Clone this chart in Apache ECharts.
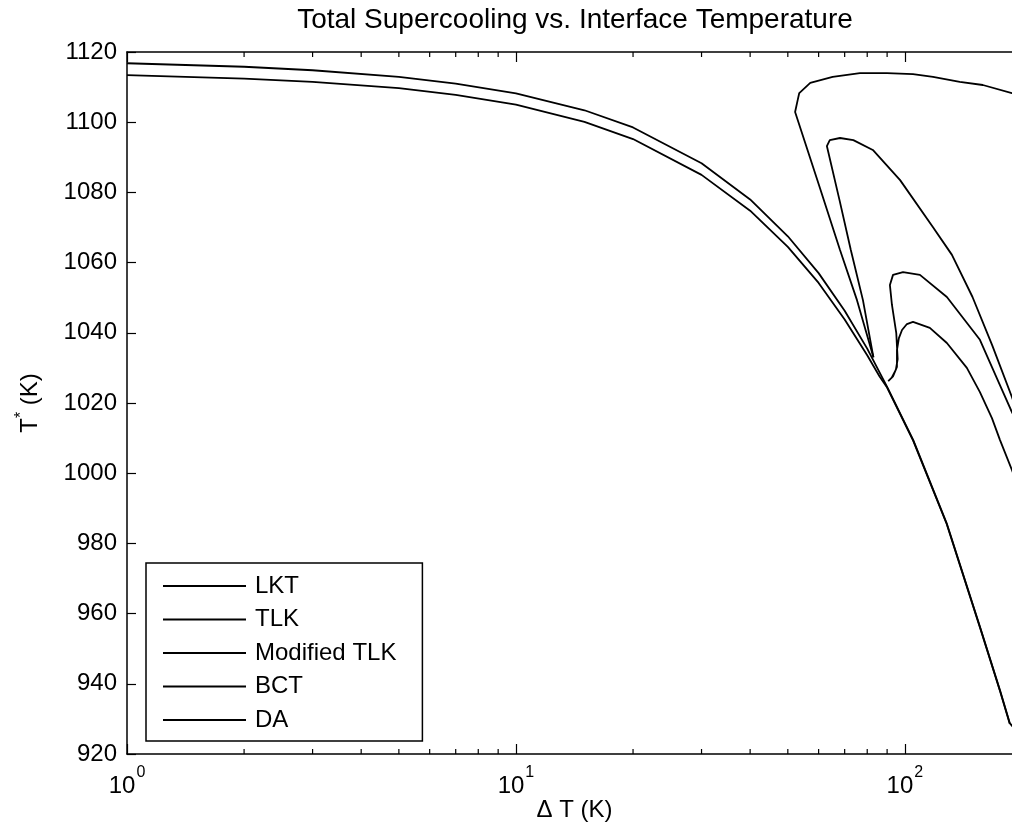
<!DOCTYPE html>
<html>
<head>
<meta charset="utf-8">
<script src="https://cdn.jsdelivr.net/npm/echarts@6/dist/echarts.min.js"></script>
<style>html,body{margin:0;padding:0;background:#fff}#c{width:1012px;height:836px}</style>
</head>
<body>
<div id="c"></div>
<script>
// ---- data ----
const titleText = 'Total Supercooling vs. Interface Temperature';
const seriesNames = ['LKT', 'TLK', 'Modified TLK', 'BCT', 'DA'];
const xMin = 1, xMax = 200;
const yMin = 920, yMax = 1120, yStep = 20;
const minorTickValues = [2, 3, 4, 5, 6, 7, 8, 9, 20, 30, 40, 50, 60, 70, 80, 90];

const lktDT = [1, 2, 3, 5, 7, 10, 15, 20, 30, 40, 50, 60, 70, 80, 90, 105, 128, 156, 175.5, 186, 190];
const lktT  = [1116.8, 1115.8, 1114.8, 1112.9, 1111.0, 1108.2, 1103.4, 1098.5, 1088.3, 1078.0, 1067.5, 1057.0, 1046.3, 1035.5, 1024.6, 1009.5, 985.8, 956.2, 938.2, 928.8, 927.6];

const tlkDT = [1, 2, 3, 5, 7, 10, 15, 20, 30, 40, 50, 60, 70, 80, 86, 90, 105, 128, 156, 175.5, 186];
const tlkT  = [1113.4, 1112.4, 1111.5, 1109.7, 1107.8, 1105.0, 1100.1, 1095.2, 1085.0, 1074.8, 1064.5, 1054.2, 1043.8, 1033.6, 1027.6, 1024.4, 1009.3, 985.6, 956.0, 938.0, 928.6];

const modDT = [83, 75.3, 68.1, 60.7, 52.2, 53.0, 53.5, 57.1, 65.2, 76.6, 89.9, 104.9, 118.1, 138.4, 158.6, 188.4, 200];
const modT  = [1033.0, 1049.3, 1063.6, 1080.7, 1102.9, 1106.3, 1108.3, 1111.2, 1112.9, 1114.0, 1114.0, 1113.7, 1112.9, 1111.5, 1110.6, 1108.3, 1107.2];

const bctDT = [83, 78.0, 72.6, 67.9, 63.0, 64.1, 68.1, 73.7, 82.7, 97.2, 118.1, 132.1, 149.2, 167.6, 188.4, 200];
const bctT  = [1033.0, 1049.3, 1063.6, 1077.8, 1093.2, 1094.9, 1095.5, 1094.9, 1092.1, 1083.5, 1070.1, 1062.2, 1050.2, 1036.5, 1021.7, 1013.8];

const daDT = [200, 188.4, 175.5, 167.4, 155.9, 144.3, 128.2, 115.9, 104.9, 101.2, 98.3, 96.5, 95.4, 95.4, 93.2, 90.6, 92.5, 94.8, 95.8, 95.0, 92.6, 91.5, 93.2, 98.9, 109.3, 128.2, 155.9, 175.5, 188.4, 200];
const daT  = [993.2, 1000.9, 1009.5, 1015.7, 1023.1, 1030.0, 1037.1, 1041.4, 1043.1, 1042.5, 1040.8, 1038.5, 1035.1, 1030.3, 1027.6, 1026.2, 1027.2, 1029.5, 1032.5, 1040.0, 1048.0, 1053.6, 1056.5, 1057.3, 1056.5, 1050.2, 1038.0, 1025.1, 1017.4, 1012.0];

const seriesX = [lktDT, tlkDT, modDT, bctDT, daDT];
const seriesY = [lktT, tlkT, modT, bctT, daT];

// ---- chart ----
const FONT = 'Liberation Sans';
const chart = echarts.init(document.getElementById('c'), null, {renderer: 'canvas'});

function pairs(xs, ys) { return xs.map((x, i) => [x, ys[i]]); }

const lineSeries = seriesNames.map((name, k) => ({
  name: name,
  type: 'line',
  data: pairs(seriesX[k], seriesY[k]),
  symbol: 'none',
  showSymbol: false,
  smooth: false,
  lineStyle: {color: '#000', width: 1.8},
  itemStyle: {color: '#000'},
  emphasis: {disabled: true},
  animation: false,
  z: 3
}));

const minorTicks = {
  type: 'custom',
  silent: true,
  animation: false,
  clip: false,
  data: minorTickValues.map(v => [v, yMin]),
  encode: {x: 0, y: 1},
  renderItem: function (params, api) {
    const v = api.value(0);
    const b = api.coord([v, yMin]);
    const t = api.coord([v, yMax]);
    return {
      type: 'group',
      children: [
        {type: 'line', shape: {x1: b[0], y1: b[1], x2: b[0], y2: b[1] - 5}, style: {stroke: '#000', lineWidth: 1.2}},
        {type: 'line', shape: {x1: t[0], y1: t[1], x2: t[0], y2: t[1] + 5}, style: {stroke: '#000', lineWidth: 1.2}}
      ]
    };
  },
  z: 5
};

function powLabel(v) {
  const e = Math.round(Math.log10(v));
  if (Math.abs(Math.pow(10, e) - v) > 1e-6 * v) return '';
  return '{b|10}{s|' + e + '}';
}

const option = {
  backgroundColor: '#fff',
  animation: false,
  title: {
    text: titleText,
    left: 570,
    top: 1,
    textAlign: 'center',
    textStyle: {fontFamily: FONT, fontSize: 28, fontWeight: 'normal', color: '#000'}
  },
  grid: {left: 127, top: 52, bottom: 82, width: 895, containLabel: false, outerBoundsMode: 'none'},
  legend: {
    data: seriesNames,
    orient: 'vertical',
    left: 146,
    top: 563,
    icon: 'rect',
    itemWidth: 83,
    itemHeight: 2,
    itemGap: 9.5,
    padding: [11, 26, 9, 17],
    borderColor: '#000',
    borderWidth: 1.5,
    backgroundColor: '#fff',
    selectedMode: false,
    itemStyle: {color: '#000', borderWidth: 0},
    textStyle: {fontFamily: FONT, fontSize: 24, color: '#000', padding: [0, 0, 0, 4]},
    z: 10
  },
  xAxis: [{
    type: 'log',
    logBase: 10,
    min: xMin,
    max: xMax,
    position: 'bottom',
    name: 'Δ T (K)',
    nameLocation: 'middle',
    nameGap: 44,
    nameMoveOverlap: false,
    nameTextStyle: {fontFamily: FONT, fontSize: 24, color: '#000'},
    axisLine: {show: true, lineStyle: {color: '#000', width: 1.5}},
    axisTick: {show: true, inside: true, length: 10, lineStyle: {color: '#000', width: 1.2}},
    axisLabel: {
      show: true,
      margin: 20,
      showMaxLabel: false,
      formatter: powLabel,
      rich: {
        b: {fontFamily: FONT, fontSize: 24, color: '#000', verticalAlign: 'bottom', lineHeight: 24},
        s: {fontFamily: FONT, fontSize: 16, color: '#000', verticalAlign: 'bottom', lineHeight: 16, padding: [0, 0, 17, 1]}
      }
    },
    splitLine: {show: false},
    minorTick: {show: false}
  }, {
    type: 'log',
    logBase: 10,
    min: xMin,
    max: xMax,
    position: 'top',
    axisLine: {show: true, lineStyle: {color: '#000', width: 1.5}},
    axisTick: {show: true, inside: true, length: 10, lineStyle: {color: '#000', width: 1.2}},
    axisLabel: {show: false},
    splitLine: {show: false}
  }],
  yAxis: [{
    type: 'value',
    min: yMin,
    max: yMax,
    interval: yStep,
    name: '{t|T}{s|*}{t| (K)}',
    nameLocation: 'middle',
    nameRotate: 90,
    nameGap: 85,
    nameTextStyle: {
      fontFamily: FONT, fontSize: 24, color: '#000',
      rich: {
        t: {fontFamily: FONT, fontSize: 24, color: '#000', verticalAlign: 'bottom', lineHeight: 24},
        s: {fontFamily: FONT, fontSize: 16, color: '#000', verticalAlign: 'bottom', lineHeight: 16, padding: [0, 0, 12, 0]}
      }
    },
    axisLine: {show: true, lineStyle: {color: '#000', width: 1.5}},
    axisTick: {show: true, inside: true, length: 9, lineStyle: {color: '#000', width: 1.2}},
    axisLabel: {fontFamily: FONT, fontSize: 24, color: '#000', margin: 10, formatter: function (v) { return String(v); }},
    splitLine: {show: false}
  }],
  series: lineSeries.concat([minorTicks])
};

chart.setOption(option);
</script>
</body>
</html>
